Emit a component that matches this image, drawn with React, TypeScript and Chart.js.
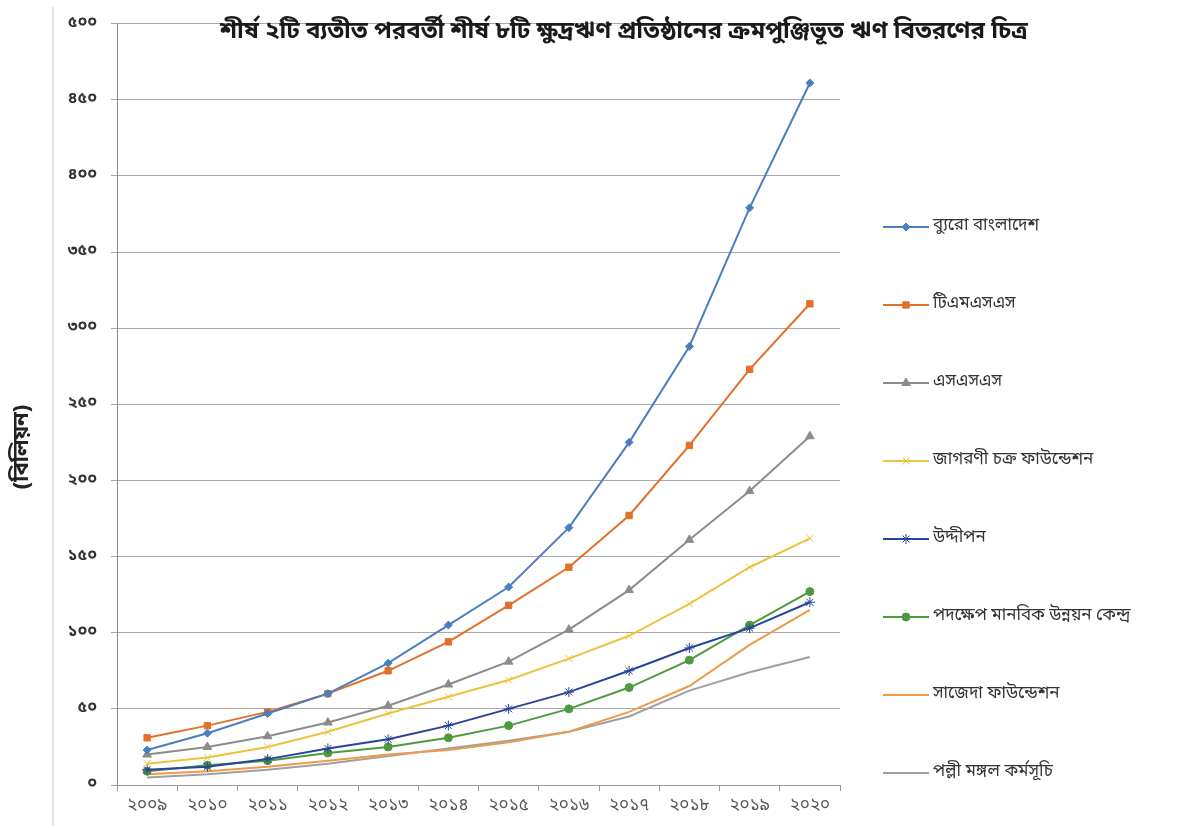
import React, { useEffect, useRef } from 'react';
import { Chart, registerables } from 'chart.js';
import { drawPoint } from 'chart.js/helpers';

Chart.register(...registerables);

const years = ['২০০৯', '২০১০', '২০১১', '২০১২', '২০১৩', '২০১৪', '২০১৫', '২০১৬', '২০১৭', '২০১৮', '২০১৯', '২০২০'];
const yTickLabels = ['০', '৫০', '১০০', '১৫০', '২০০', '২৫০', '৩০০', '৩৫০', '৪০০', '৪৫০', '৫০০'];

const titleText = 'শীর্ষ ২টি ব্যতীত পরবর্তী শীর্ষ ৮টি ক্ষুদ্রঋণ প্রতিষ্ঠানের ক্রমপুঞ্জিভূত ঋণ বিতরণের চিত্র';
const yAxisTitle = '(বিলিয়ন)';

const seriesNames = [
  'ব্যুরো বাংলাদেশ',
  'টিএমএসএস',
  'এসএসএস',
  'জাগরণী চক্র ফাউন্ডেশন',
  'উদ্দীপন',
  'পদক্ষেপ মানবিক উন্নয়ন কেন্দ্র',
  'সাজেদা ফাউন্ডেশন',
  'পল্লী মঙ্গল কর্মসূচি',
];

const buro = [23, 34, 47, 60, 80, 105, 130, 169, 225, 288, 379, 461];
const tmss = [31, 39, 48, 60, 75, 94, 118, 143, 177, 223, 273, 316];
const sss = [20, 25, 32, 41, 52, 66, 81, 102, 128, 161, 193, 229];
const jagorani = [14, 18, 25, 35, 47, 58, 69, 83, 98, 119, 143, 162];
const uddipan = [10, 12, 17, 24, 30, 39, 50, 61, 75, 90, 103, 120];
const padakhep = [9, 13, 16, 21, 25, 31, 39, 50, 64, 82, 105, 127];
const sajeda = [7, 9, 12, 16, 20, 23, 28, 35, 48, 65, 92, 115];
const palli = [5, 7, 10, 14, 19, 24, 29, 35, 45, 62, 74, 84];

const seriesValues = [buro, tmss, sss, jagorani, uddipan, padakhep, sajeda, palli];
const seriesColors = ['#4A7FBF', '#E2702A', '#8C8C8C', '#EDC240', '#27449A', '#4E9A3E', '#EE9A4A', '#A0A0A0'];
const seriesMarkers: any[] = ['rectRot', 'rect', 'triangle', 'crossRot', 'star', 'circle', false, false];
const seriesMarkerRadius = [4, 4.5, 5, 5, 5, 4, 0, 0];

const FONT = '"Noto Sans Bengali", "Noto Sans", "DejaVu Sans", sans-serif';

const decorPlugin = {
  id: 'decor',
  afterDraw(chart: any) {
    const ctx = chart.ctx;
    ctx.save();
    // title
    ctx.fillStyle = '#1a1a1a';
    ctx.font = `bold 24px ${FONT}`;
    ctx.textAlign = 'center';
    ctx.textBaseline = 'middle';
    ctx.fillText(titleText, 624, 33);
    // y axis title
    ctx.save();
    ctx.translate(24, 447);
    ctx.rotate(-Math.PI / 2);
    ctx.font = `bold 22px ${FONT}`;
    ctx.fillStyle = '#222';
    ctx.fillText(yAxisTitle, 0, 0);
    ctx.restore();
    // legend
    chart.data.datasets.forEach((ds: any, i: number) => {
      const y = 227 + i * 78;
      ctx.strokeStyle = ds.borderColor;
      ctx.lineWidth = 2;
      ctx.beginPath();
      ctx.moveTo(883, y);
      ctx.lineTo(929, y);
      ctx.stroke();
      if (ds.pointStyle) {
        ctx.fillStyle = ds.backgroundColor;
        ctx.strokeStyle = ds.borderColor;
        ctx.lineWidth = 1;
        drawPoint(ctx, { pointStyle: ds.pointStyle, radius: ds.pointRadius, rotation: 0, borderWidth: 1 }, 906, y);
      }
      ctx.fillStyle = '#333';
      ctx.font = `17px ${FONT}`;
      ctx.textAlign = 'left';
      ctx.textBaseline = 'middle';
      ctx.fillText(ds.label, 933, y);
    });
    ctx.restore();
  },
};

export default function App() {
  const ref = useRef<HTMLCanvasElement | null>(null);
  useEffect(() => {
    if (!ref.current) return;
    const chart = new Chart(ref.current, {
      type: 'line',
      data: {
        labels: years,
        datasets: seriesNames.map((name, i) => ({
          label: name,
          data: seriesValues[i],
          borderColor: seriesColors[i],
          backgroundColor: seriesColors[i],
          borderWidth: 2,
          pointStyle: seriesMarkers[i],
          pointRadius: seriesMarkerRadius[i],
          pointBorderWidth: 1,
          tension: 0,
        })),
      },
      options: {
        animation: false,
        responsive: false,
        maintainAspectRatio: false,
        layout: { padding: { left: 0, top: 22, right: 346, bottom: 0 } },
        plugins: {
          legend: { display: false },
          title: { display: false },
          tooltip: { enabled: false },
        },
        scales: {
          x: {
            type: 'category',
            offset: true,
            afterFit: (s: any) => { s.height = 43; },
            grid: { display: true, drawOnChartArea: false, drawTicks: true, tickLength: 6, color: '#9a9a9a', offset: true },
            border: { display: true, color: '#9a9a9a', width: 1 },
            ticks: { color: '#555', font: { family: FONT, size: 17 }, padding: 6, maxRotation: 0, autoSkip: false },
          },
          y: {
            min: 0,
            max: 500,
            afterFit: (s: any) => { s.width = 117; },
            grid: { color: '#a8a8a8', lineWidth: 1, tickLength: 6, drawTicks: true },
            border: { display: true, color: '#8a8a8a', width: 1 },
            ticks: {
              stepSize: 50,
              padding: 14,
              color: '#333',
              font: { family: FONT, size: 16, weight: 'bold' },
              callback: (v: any) => yTickLabels[Math.round(Number(v) / 50)] ?? '',
            },
          },
        },
      } as any,
      plugins: [decorPlugin],
    });
    return () => chart.destroy();
  }, []);
  return (
    <div style={{ position: 'fixed', left: 0, top: 0, width: 1186, height: 828, background: '#fff' }}>
      <div style={{ position: 'absolute', left: 52, top: 7, width: 0, height: 819, borderLeft: '2px solid #e4e4e4' }} />
      <canvas ref={ref} width={1186} height={828} style={{ position: 'absolute', left: 0, top: 0, width: 1186, height: 828 }} />
    </div>
  );
}
